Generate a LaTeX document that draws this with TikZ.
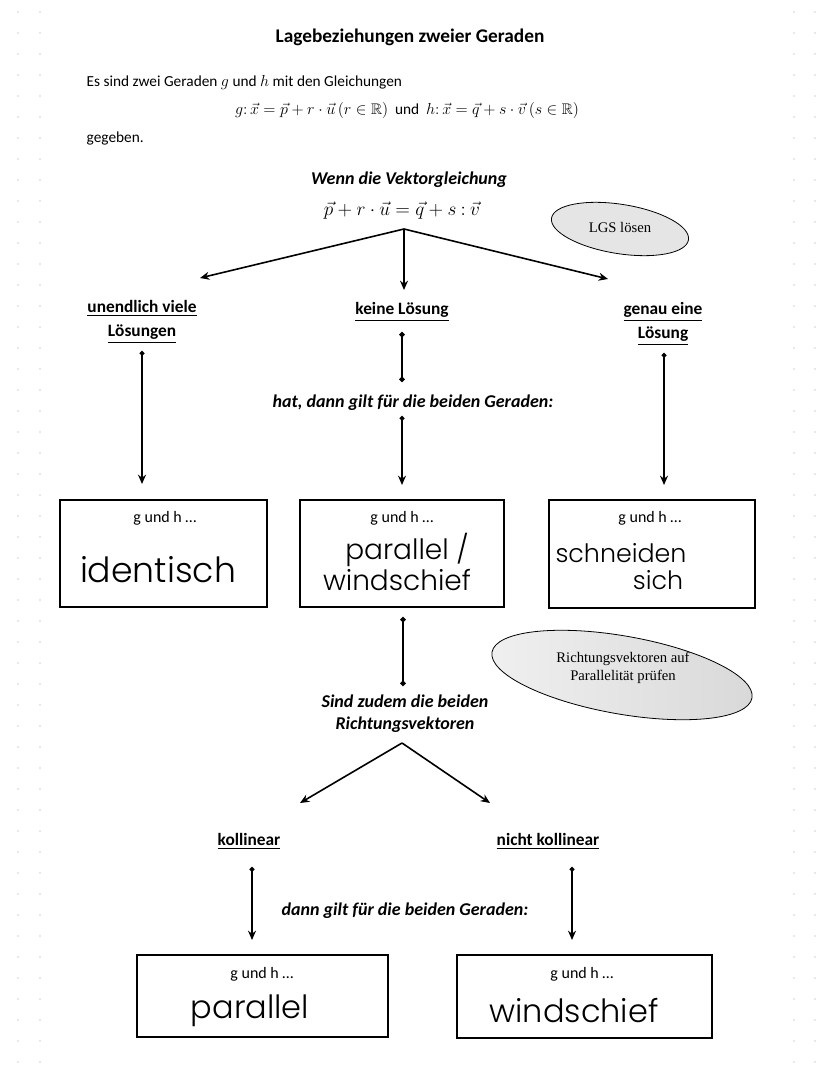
\documentclass[tikz,border=0pt]{standalone}
\usepackage{fontspec}
\usepackage{amssymb}
\setmainfont{Carlito}
\newfontfamily\handfont{Poppins}[UprightFont={* Light}]
\newfontfamily\printfont{Liberation Serif}
\usetikzlibrary{arrows.meta,shapes.geometric}

\begin{document}
\begin{tikzpicture}[x=0.75pt,y=-0.75pt]
  \tikzset{
    head text/.style={font=\bfseries\fontsize{14.5}{17}\selectfont},
    body text/.style={font=\fontsize{11.5}{13}\selectfont},
    case text/.style={font=\bfseries\fontsize{13}{18}\selectfont,align=center},
    cond text/.style={font=\bfseries\itshape\fontsize{13.5}{16.5}\selectfont,align=center},
    gh text/.style={font=\fontsize{12}{13}\selectfont},
    hand/.style={font=\handfont\fontsize{#1}{#1}\selectfont,inner sep=0pt},
    result box/.style={draw,rectangle,line width=0.9pt,inner sep=0pt},
    oval/.style={draw,ellipse,line width=0.6pt,inner sep=0pt},
    oval text/.style={font=\printfont\fontsize{11}{13}\selectfont,align=center},
    flow/.style={line width=1.2pt,-{Stealth[length=7pt,width=6pt]}},
    link/.style={line width=1.2pt,{Circle[length=4pt]}-{Circle[length=4pt]}},
    link arrow/.style={line width=1.2pt,{Circle[length=3.5pt]}-{Stealth[length=7pt,width=6pt]}}
  }

  % page and dotted margins
  \fill[white] (0,0) rectangle (828,1069);
  \foreach \y in {12,33,...,1062} {
    \foreach \x in {18,40,794,815} {
      \fill[gray!35] (\x,\y) circle (0.6pt);
    }
  }

  % heading
  \node[head text] (title) at (410,37) {Lagebeziehungen zweier Geraden};
  \node[body text,anchor=west] (intro) at (82,83) {Es sind zwei Geraden $g$ und $h$ mit den Gleichungen};
  \node[body text] (lines) at (407,111) {$g\colon\vec{x}=\vec{p}+r\cdot\vec{u}\,(r\in\mathbb{R})$\ \ und\ \ $h\colon\vec{x}=\vec{q}+s\cdot\vec{v}\,(s\in\mathbb{R})$};
  \node[body text,anchor=west] (given) at (82,138) {gegeben.};

  % first split
  \node[cond text] (wenn) at (409,180) {Wenn die Vektorgleichung};
  \node[font=\fontsize{14}{16}\selectfont] (vecgl) at (402,211) {$\vec{p}+r\cdot\vec{u}=\vec{q}+s\mathbin{:}\vec{v}$};
  \node[oval,fill=gray!20,minimum width=104pt,minimum height=37pt,rotate=-9] (lgs oval) at (620,229) {};
  \node[oval text] (lgs) at (620,227) {LGS lösen};

  \coordinate (split top) at (404,229);
  \coordinate (to inf) at (200,278);
  \coordinate (to none) at (404,290);
  \coordinate (to one) at (608,279);
  \draw[flow] (split top) -- (to inf);
  \draw[flow] (split top) -- (to none);
  \draw[flow] (split top) -- (to one);

  \node[case text] (inf) at (142,322) {\underline{unendlich viele}\\\underline{Lösungen}};
  \node[case text] (none) at (402,312) {\underline{keine Lösung}};
  \node[case text] (one) at (663,324) {\underline{genau eine}\\\underline{Lösung}};
  \node[cond text] (hat) at (413,403) {hat, dann gilt für die beiden Geraden:};

  \coordinate (inf top) at (142,351);
  \coordinate (inf end) at (142,484);
  \coordinate (none top) at (402,332);
  \coordinate (none mid) at (402,382);
  \coordinate (hat low) at (402,416);
  \coordinate (hat end) at (402,485);
  \coordinate (one top) at (664,353);
  \coordinate (one end) at (664,485);
  \draw[link arrow] (inf top) -- (inf end);
  \draw[link] (none top) -- (none mid);
  \draw[link arrow] (hat low) -- (hat end);
  \draw[link arrow] (one top) -- (one end);

  % first row of results
  \node[result box,minimum width=155.25pt,minimum height=80.25pt] (box ident) at (163.5,553.5) {};
  \node[result box,minimum width=153pt,minimum height=80.25pt] (box par) at (402,553.5) {};
  \node[result box,minimum width=154.5pt,minimum height=81pt] (box cut) at (652,554) {};
  \node[gh text] (gh ident) at (165,518) {g und h \dots};
  \node[gh text] (gh par) at (402,518) {g und h \dots};
  \node[gh text] (gh cut) at (650,518) {g und h \dots};
  \node[hand=26] (ident) at (158,570) {identisch};
  \node[hand=21] (par a) at (407,550) {parallel /};
  \node[hand=21] (par b) at (397,580) {windschief};
  \node[hand=19] (cut a) at (621,553) {schneiden};
  \node[hand=19] (cut b) at (658,580) {sich};

  % second split
  \coordinate (par top) at (403,617);
  \coordinate (par low) at (403,686);
  \draw[link] (par top) -- (par low);
  \node[cond text] (sind) at (405,714) {Sind zudem die beiden\\Richtungsvektoren};
  \node[oval,left color=gray!12,right color=gray!30,minimum width=198pt,minimum height=58.5pt,rotate=-10] (rv oval) at (622,675) {};
  \node[oval text] (rv) at (623,668) {Richtungsvektoren auf\\Parallelität prüfen};

  \coordinate (split low) at (402,743);
  \coordinate (to coll) at (300,803);
  \coordinate (to ncoll) at (490,803);
  \draw[flow] (split low) -- (to coll);
  \draw[flow] (split low) -- (to ncoll);

  \node[case text] (coll) at (249,841) {\underline{kollinear}};
  \node[case text] (ncoll) at (548,841) {\underline{nicht kollinear}};
  \node[cond text] (dann) at (405,911) {dann gilt für die beiden Geraden:};

  \coordinate (coll top) at (252,867);
  \coordinate (coll end) at (252,940);
  \coordinate (ncoll top) at (572,867);
  \coordinate (ncoll end) at (572,940);
  \draw[link arrow] (coll top) -- (coll end);
  \draw[link arrow] (ncoll top) -- (ncoll end);

  % second row of results
  \node[result box,minimum width=188.25pt,minimum height=61.5pt] (box para) at (262.5,996) {};
  \node[result box,minimum width=191.25pt,minimum height=62.25pt] (box skew) at (584.5,996.5) {};
  \node[gh text] (gh para) at (262,974) {g und h \dots};
  \node[gh text] (gh skew) at (582,974) {g und h \dots};
  \node[hand=24] (para) at (250,1011) {parallel};
  \node[hand=24] (skew) at (574,1011) {windschief};
\end{tikzpicture}
\end{document}
